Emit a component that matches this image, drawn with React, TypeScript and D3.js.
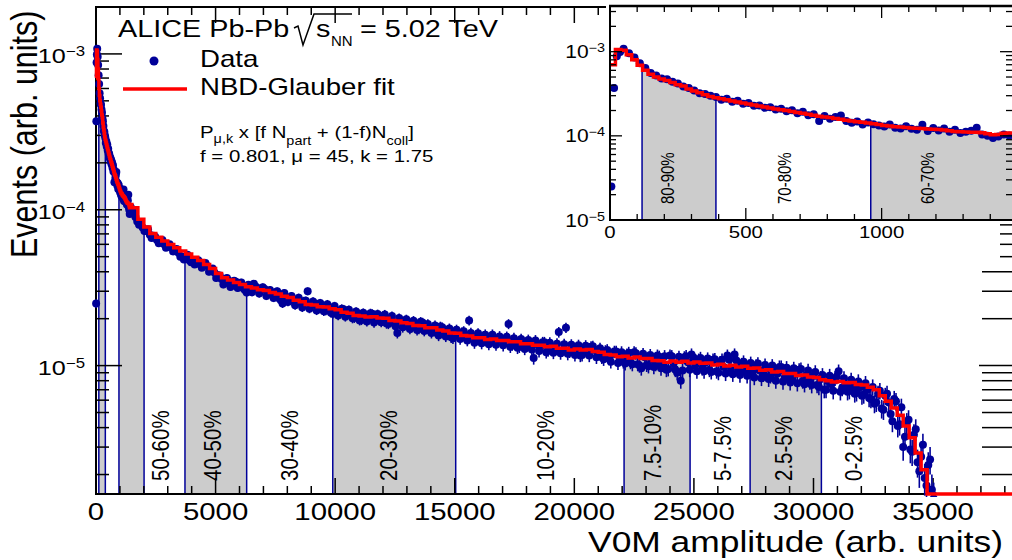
import React from 'react';
import * as d3 from 'd3';

const W = 1012;
const H = 560;
const U = 1e-6; // all values below are in units of 1e-6 (arb. units)

// NBD-Glauber fit, fine bins of 20 (0 .. 1500)
const fitFine = [
  700, 1060, 1040, 920, 800, 690, 600, 540, 500, 475,
  455, 430, 405, 390, 360, 340, 325, 308, 294, 283,
  276, 268, 260, 253, 245, 239, 232, 226, 220, 214,
  209, 204, 200, 195, 190, 185, 181, 176, 171, 168,
  165, 161, 157, 153, 150, 147, 145, 142, 139, 136,
  133, 131, 128, 127, 126, 124, 123, 122, 121, 120,
  119, 117, 115, 113, 112, 111, 110, 110, 109, 106,
  103, 104, 107, 108, 108,
];

// NBD-Glauber fit, bins of 250 starting at 1500
const fitCoarse = [
  103, 87, 77.5, 70.5, 66.5, 63, 59.8, 57, 54.3, 52,
  49.5, 47.2, 44.6, 42, 39, 36.6, 35.4, 34.1, 33.2, 32.1,
  31.5, 30.7, 30.3, 29.4, 28.8, 27.9, 27.4, 26.3, 25.7, 24.7,
  24.5, 23.9, 23.8, 23.2, 22.8, 22.0, 21.7, 21.0, 20.8, 20.5,
  20.6, 20.2, 20.1, 19.5, 19.3, 18.8, 18.6, 18.1, 18.0, 17.5,
  17.5, 16.9, 16.7, 16.2, 16.1, 15.6, 15.5, 15.1, 15.1, 14.7,
  14.8, 14.5, 14.5, 14.2, 14.2, 13.8, 13.8, 13.5, 13.5, 13.2,
  13.3, 12.9, 12.9, 12.6, 12.8, 12.6, 12.7, 12.3, 12.2, 11.8,
  11.7, 11.4, 11.5, 11.2, 11.35, 11.1, 11.1, 10.8, 10.75, 10.5,
  10.7, 10.5, 10.65, 10.4, 10.55, 10.35, 10.4, 10.1, 10.2, 9.95,
  10.05, 9.8, 9.9, 9.6, 9.65, 9.35, 9.4, 9.1, 9.15, 8.9,
  8.9, 8.65, 8.7, 8.45, 8.4, 8.1, 8.0, 7.85, 7.9, 7.75,
  7.8, 7.55, 7.5, 7.25, 7.0, 6.4, 5.9, 5.35, 4.8, 4.1,
  3.45, 2.75, 2.15, 1.45,
];

// Data: first points [amplitude, value]
const dataHead: [number, number][] = [[5, 25], [15, 370], [25, 880], [37, 990], [50, 1080]];

// Data, bins of 20 centred at 70 .. 1470
const dataFine = [
  960, 850, 730, 640, 560, 520, 480, 470, 440, 420,
  385, 370, 345, 320, 315, 300, 290, 268, 275, 255,
  262, 240, 246, 228, 230, 215, 218, 205, 210, 196,
  202, 186, 193, 176, 180, 150, 172, 160, 168, 175,
  150, 143, 148, 136, 144, 137, 133, 129, 136, 125,
  122, 130, 121, 118, 135, 114, 124, 116, 122, 112,
  118, 108, 112, 115, 125, 104, 100, 94, 98, 104,
  101,
];

// Data, points every 150 from 1500 .. 35100
const dataCoarse = [
  100, 90, 80, 77, 73, 69, 68, 64, 63, 60,
  58, 57.5, 55, 53, 50, 49, 47.5, 47, 45, 46,
  44, 43.5, 41, 39.5, 38, 36, 34, 35, 33.5, 34.5,
  33, 31.5, 29.5, 31.8, 33.5, 31.5, 30.5, 31, 29.5, 28.8,
  29.5, 27, 25, 27.5, 27, 26, 26.5, 25.5, 26, 30,
  24.5, 25, 23.2, 24.2, 22.5, 23.5, 21.5, 22.5, 22, 23,
  21.8, 21.3, 20.2, 21.6, 19.6, 21, 20.3, 21.5, 20, 19.5,
  20.8, 18.6, 19.8, 19, 16.2, 19.3, 18.2, 18.8, 17.6, 18.5,
  17.2, 18.9, 17.3, 16.8, 17.5, 16.2, 17.8, 16.1, 16.6, 15.2,
  16.5, 15.6, 16.3, 15.1, 19.5, 15.4, 15, 14.9, 15.4, 14.4,
  15.2, 14.2, 14.9, 14.6, 14.5, 18.5, 13.6, 14.4, 13.2, 14.2,
  13.4, 14, 11.2, 13.7, 13.3, 14.1, 12.5, 13.2, 12.8, 16.4,
  12.5, 17.5, 12.3, 13.1, 12.9, 11.6, 12.8, 12.2, 13.2, 12.6,
  12.0, 11.3, 12.4, 11.1, 11.9, 12.3, 11.0, 10.6, 11.8, 10.5,
  12.2, 10.2, 9.6, 11.3, 9.9, 11.0, 10.2, 11.4, 10.1, 9.4,
  11.6, 10.3, 9.0, 8.0, 11.3, 10.5, 11.8, 10.0, 10.9, 9.6,
  10.5, 9.4, 10.9, 9.2, 10.5, 9.8, 11.6, 9.5, 11.8, 9.3,
  10.2, 9.2, 9.9, 9.0, 10.0, 9.3, 8.8, 9.6, 8.6, 9.4,
  8.9, 9.8, 8.4, 9.2, 8.3, 8.9, 9.4, 8.0, 8.7, 7.9,
  8.6, 7.5, 8.3, 7.0, 8.0, 7.6, 8.3, 9.2, 7.2, 7.5,
  6.9, 7.4, 6.7, 7.3, 6.5, 7.0, 6.1, 5.7, 6.6, 5.3,
  6.4, 5.8, 4.4, 5.9, 4.2, 3.0, 4.3, 2.9, 3.6, 2.4,
  2.6, 1.9, 2.3, 1.6, 1.2,
];

// Data, interleaved points every 150 from 1575 .. 35025
const dataCoarse2 = [
  96, 84, 83, 73, 75, 66, 67, 61, 64, 57,
  60, 54, 56, 50, 48, 51.5, 46, 44.5, 47.5, 42.5,
  45.5, 40, 42, 36.5, 37.8, 33.2, 36.5, 32, 35, 31.5,
  34.2, 30.5, 33, 29.6, 32.2, 29, 31.8, 28, 30.6, 27.2,
  30, 26.3, 29.2, 25.6, 28, 24.4, 27.3, 23.6, 26.1, 23.2,
  25.8, 22.6, 25.2, 22.3, 24.8, 21.8, 24.1, 21, 23.2, 20.6,
  22.8, 20.1, 22.2, 19.5, 21.8, 19.2, 21.7, 18.9, 21.4, 19,
  21.3, 18.5, 20.8, 17.9, 20.2, 17.6, 19.8, 17.2, 19.4, 16.9,
  19.1, 16.7, 18.5, 16.2, 18.1, 15.6, 17.6, 15.4, 17.3, 15.0,
  17.0, 14.8, 16.6, 14.5, 16.2, 14.0, 16.1, 13.9, 15.8, 13.7,
  15.8, 13.6, 15.4, 13.5, 15.3, 13.2, 15.0, 13.0, 14.8, 12.8,
  14.6, 12.7, 14.5, 12.4, 14.1, 12.2, 14.0, 12.1, 13.8, 12.0,
  13.7, 11.9, 13.6, 11.7, 13.5, 11.7, 13.4, 11.6, 13.3, 11.3,
  12.9, 11.0, 12.6, 10.6, 12.3, 10.4, 12.2, 10.3, 12.1, 10.2,
  12.0, 10.0, 11.9, 10.1, 11.7, 9.8, 11.6, 9.6, 11.5, 9.5,
  11.5, 9.4, 11.4, 9.3, 11.5, 9.4, 11.3, 9.2, 11.2, 9.2,
  11.1, 9.1, 11.0, 9.0, 10.9, 8.9, 10.9, 8.8, 10.8, 8.7,
  10.6, 8.6, 10.4, 8.4, 10.3, 8.3, 10.1, 8.2, 10.0, 8.0,
  9.8, 7.9, 9.7, 7.8, 9.6, 7.7, 9.5, 7.6, 9.3, 7.5,
  9.1, 7.3, 8.7, 7.0, 8.6, 6.9, 8.5, 6.8, 8.3, 6.8,
  8.1, 6.6, 7.9, 6.4, 7.7, 6.2, 7.3, 5.8, 6.9, 5.2,
  6.6, 4.9, 6.1, 4.1, 5.4, 3.5, 4.5, 2.8, 3.9, 2.1,
  3.1, 1.7, 2.5, 1.4,
];

// centrality class boundaries (V0M amplitude)
const classEdges = [118, 390, 960, 2010, 3720, 6300, 9900, 15040, 22080, 24840, 27350, 30330];
const shadedBands: [number, number][] = [
  [118, 390], [960, 2010], [3720, 6300], [9900, 15040], [22080, 24840], [27350, 30330],
];
const mainLabels = ['50-60%', '40-50%', '30-40%', '20-30%', '10-20%', '7.5-10%', '5-7.5%', '2.5-5%', '0-2.5%'];
const mainLabelX = [2680, 4850, 8070, 12210, 18780, 23250, 26180, 28730, 31660];
const insetLabels = ['80-90%', '70-80%', '60-70%'];
const insetLabelX = [213, 644, 1170];

const mainXTickLabels = [0, 5000, 10000, 15000, 20000, 25000, 30000, 35000];
const insetXTickLabels = [0, 500, 1000];
const mainYTickExp = [-5, -4, -3];
const insetYTickExp = [-5, -4, -3];

const FONT = '"Liberation Sans", Arial, Helvetica, sans-serif';
const SX = 1.2;
const BLUE = '#000099';
const RED = '#ff0000';

function T(props: any) {
  const { x, y, fs, sx = SX, anchor = 'start', rot = 0, dy, children, fill = '#000' } = props;
  return (
    <text
      transform={`translate(${x},${y}) scale(${sx},1)` + (rot ? ` rotate(${rot})` : '')}
      fontSize={fs}
      textAnchor={anchor}
      fontFamily={FONT}
      fill={fill}
      dy={dy}
    >
      {children}
    </text>
  );
}

type P = { x: number; v: number };

export default function App() {
  const mx = d3.scaleLinear().domain([0, 38300]).range([96, 1012]);
  const my = d3.scaleLog().domain([1.5e-6, 2e-3]).range([494, 7]);
  const ix = d3.scaleLinear().domain([0, 1480]).range([610, 1012]);
  const iy = d3.scaleLog().domain([1e-5, 3.49e-3]).range([220, 6]);

  const fit: P[] = [
    ...fitFine.map((v, i) => ({ x: i * 20, v: v * U })),
    ...fitCoarse.map((v, j) => ({ x: 1500 + 250 * j, v: v * U })),
    { x: 35000, v: 0 },
    { x: 38300, v: 0 },
  ];
  const data: P[] = [
    ...dataHead.map(([x, v]) => ({ x, v: v * U })),
    ...dataFine.map((v, i) => ({ x: 70 + 20 * i, v: v * U })),
    ...dataCoarse.map((v, i) => ({ x: 1500 + 150 * i, v: v * U })),
    ...dataCoarse2.map((v, i) => ({ x: 1575 + 150 * i, v: v * U })),
  ];
  const fitAt = (X: number) => {
    let v = fit[0].v;
    for (const p of fit) {
      if (p.x <= X) v = p.v;
      else break;
    }
    return v;
  };
  const yv = (s: any, v: number) => {
    const b = s.range()[0];
    return v > 0 ? Math.min(s(v), b) : b;
  };
  const err = (v: number) => v * 0.1 / Math.sqrt(v / 1e-5);

  const mainLine = d3.line<P>().x((p) => mx(p.x)).y((p) => yv(my, p.v)).curve(d3.curveStepAfter)(fit) || '';
  const mainArea = d3.area<P>().x((p) => mx(p.x)).y0(494).y1((p) => yv(my, p.v)).curve(d3.curveStepAfter)(fit) || '';
  const insetFit = fit.filter((p) => p.x <= 1750);
  const insetLine = d3.line<P>().x((p) => ix(p.x)).y((p) => yv(iy, p.v)).curve(d3.curveStepAfter)(insetFit) || '';
  const insetArea = d3.area<P>().x((p) => ix(p.x)).y0(220).y1((p) => yv(iy, p.v)).curve(d3.curveStepAfter)(insetFit) || '';

  const logTicks = (lo: number, hi: number) => {
    const out: { v: number; major: boolean }[] = [];
    for (let e = -7; e <= -2; e++) {
      for (let k = 1; k <= 9; k++) {
        const v = k * Math.pow(10, e);
        if (v >= lo * 0.999 && v <= hi * 1.001) out.push({ v, major: k === 1 });
      }
    }
    return out;
  };
  const mYT = logTicks(1.5e-6, 2e-3);
  const iYT = logTicks(1e-5, 3.49e-3);
  const mXT = d3.range(0, 38001, 1000).map((v) => ({ v, major: v % 5000 === 0 }));
  const iXT = d3.range(0, 1481, 100).map((v) => ({ v, major: v % 500 === 0 }));

  const insetData = data.filter((p) => p.x <= 1500);

  return (
    <svg width={W} height={H} style={{ position: 'absolute', left: 0, top: 0, background: '#fff' }}>
      <defs>
        <clipPath id="mainClip">
          <rect x={88} y={6} width={W - 88} height={491} />
        </clipPath>
        <clipPath id="mainBands">
          {shadedBands.map((b, i) => (
            <rect key={i} x={mx(b[0])} y={0} width={mx(b[1]) - mx(b[0])} height={H} />
          ))}
        </clipPath>
        <clipPath id="insetClip">
          <rect x={610} y={6} width={W - 610} height={214} />
        </clipPath>
        <clipPath id="insetBands">
          {shadedBands.map((b, i) => (
            <rect key={i} x={ix(b[0])} y={0} width={Math.max(0, ix(b[1]) - ix(b[0]))} height={H} />
          ))}
        </clipPath>
      </defs>
      <rect x={0} y={0} width={W} height={H} fill="#fff" />

      {/* ===== MAIN PLOT ===== */}
      <g clipPath="url(#mainClip)">
        <g clipPath="url(#mainBands)">
          <path d={mainArea} fill="#cccccc" />
        </g>
        {classEdges.map((X, i) => (
          <line key={i} x1={mx(X)} x2={mx(X)} y1={494} y2={yv(my, fitAt(X))} stroke={BLUE} strokeWidth={1.5} />
        ))}
      </g>
      <line x1={96} x2={96} y1={7} y2={494} stroke="#000" strokeWidth={2} />
      <line x1={95} x2={W} y1={494} y2={494} stroke="#000" strokeWidth={2.2} />
      <line x1={95} x2={W} y1={7} y2={7} stroke="#000" strokeWidth={2} />
      {mYT.map((t, i) => (
        <g key={'my' + i}>
          <line x1={96} x2={96 + (t.major ? 26 : 13)} y1={my(t.v)} y2={my(t.v)} stroke="#000" strokeWidth={1.5} />
          <line x1={W} x2={W - (t.major ? 33 : 30)} y1={my(t.v)} y2={my(t.v)} stroke="#000" strokeWidth={1.5} />
        </g>
      ))}
      {mXT.map((t, i) => (
        <g key={'mx' + i}>
          <line x1={mx(t.v)} x2={mx(t.v)} y1={494} y2={494 - (t.major ? 16 : 8)} stroke="#000" strokeWidth={1.5} />
          <line x1={mx(t.v)} x2={mx(t.v)} y1={7} y2={7 + (t.major ? 16 : 8)} stroke="#000" strokeWidth={1.5} />
        </g>
      ))}

      <g clipPath="url(#mainClip)">
        {data.map((p, i) => {
          const e = err(p.v);
          return (
            <line key={'e' + i} x1={mx(p.x)} x2={mx(p.x)} y1={my(p.v + e)} y2={my(Math.max(p.v - e, 1e-7))} stroke={BLUE} strokeWidth={1.6} />
          );
        })}
        {data.map((p, i) => (
          <circle key={'c' + i} cx={mx(p.x)} cy={my(p.v)} r={4} fill={BLUE} />
        ))}
        <path d={mainLine} fill="none" stroke={RED} strokeWidth={3.5} />
      </g>

      {mainLabels.map((s, i) => (
        <T key={'ml' + i} x={mx(mainLabelX[i])} y={481} fs={20.5} rot={-90} dy="0.36em">{s}</T>
      ))}

      {mainXTickLabels.map((v, i) => (
        <T key={'mxl' + i} x={mx(v)} y={520} fs={24.5} anchor="middle">{v}</T>
      ))}
      {mainYTickExp.map((e, i) => (
        <T key={'myl' + i} x={85} y={my(Math.pow(10, e)) + 9} fs={21} anchor="end">
          10<tspan fontSize={14} dy={-7}>{'\u2212' + Math.abs(e)}</tspan>
        </T>
      ))}

      <T x={1003} y={552} fs={30} sx={1.18} anchor="end">V0M amplitude (arb. units)</T>
      <T x={37} y={258} fs={30.5} sx={1.22} rot={-90}>Events (arb. units)</T>

      {/* ===== INSET ===== */}
      <rect x={606} y={0} width={W - 606} height={222} fill="#fff" />
      <rect x={606} y={221} width={1000 - 606} height={37} fill="#fff" />
      <g clipPath="url(#insetClip)">
        <g clipPath="url(#insetBands)">
          <path d={insetArea} fill="#cccccc" />
        </g>
        {classEdges.filter((X) => X < 1480).map((X, i) => (
          <line key={i} x1={ix(X)} x2={ix(X)} y1={220} y2={yv(iy, fitAt(X))} stroke={BLUE} strokeWidth={1.5} />
        ))}
        {insetData.map((p, i) => (
          <circle key={'ic' + i} cx={ix(p.x)} cy={iy(p.v)} r={4} fill={BLUE} />
        ))}
        <path d={insetLine} fill="none" stroke={RED} strokeWidth={3.5} />
      </g>
      <line x1={610} x2={610} y1={6} y2={221} stroke="#000" strokeWidth={2} />
      <line x1={609} x2={W} y1={220} y2={220} stroke="#000" strokeWidth={2} />
      <line x1={609} x2={W} y1={6} y2={6} stroke="#000" strokeWidth={2.4} />
      {iYT.map((t, i) => (
        <g key={'iy' + i}>
          <line x1={610} x2={610 + (t.major ? 12 : 6)} y1={iy(t.v)} y2={iy(t.v)} stroke="#000" strokeWidth={1.3} />
          <line x1={W} x2={W - (t.major ? 12 : 6)} y1={iy(t.v)} y2={iy(t.v)} stroke="#000" strokeWidth={1.3} />
        </g>
      ))}
      {iXT.map((t, i) => (
        <g key={'ix' + i}>
          <line x1={ix(t.v)} x2={ix(t.v)} y1={220} y2={220 - (t.major ? 12 : 6)} stroke="#000" strokeWidth={1.3} />
          <line x1={ix(t.v)} x2={ix(t.v)} y1={6} y2={6 + (t.major ? 12 : 6)} stroke="#000" strokeWidth={1.3} />
        </g>
      ))}
      {insetLabels.map((s, i) => (
        <T key={'il' + i} x={ix(insetLabelX[i])} y={204} fs={15} rot={-90} dy="0.36em">{s}</T>
      ))}
      {insetXTickLabels.map((v, i) => (
        <T key={'ixl' + i} x={ix(v)} y={238} fs={17} anchor="middle">{v}</T>
      ))}
      {insetYTickExp.map((e, i) => (
        <T key={'iyl' + i} x={605} y={iy(Math.pow(10, e)) + 6.5} fs={17.5} anchor="end">
          10<tspan fontSize={12} dy={-6}>{'\u2212' + Math.abs(e)}</tspan>
        </T>
      ))}

      {/* ===== LEGEND / TITLE ===== */}
      <T x={118} y={37} fs={24}>ALICE Pb-Pb</T>
      <path d="M294,28 L298,26 L303,45 L314,14 L352,14" fill="none" stroke="#000" strokeWidth={1.5} />
      <T x={316} y={37} fs={24}>s</T>
      <T x={331} y={46} fs={15} sx={1.0}>NN</T>
      <T x={360} y={37} fs={24}>= 5.02 TeV</T>

      <circle cx={154} cy={61} r={4.5} fill={BLUE} />
      <T x={200} y={67} fs={23}>Data</T>
      <line x1={123} x2={187} y1={89} y2={89} stroke={RED} strokeWidth={3.5} />
      <T x={200} y={95} fs={23}>NBD-Glauber fit</T>

      <T x={200} y={138} fs={17}>
        P<tspan fontSize={12} dy={5}>{'\u03bc,k'}</tspan>
        <tspan dy={-5}>{' x [f N'}</tspan>
        <tspan fontSize={12} dy={7}>part</tspan>
        <tspan dy={-7}>{' + (1-f)N'}</tspan>
        <tspan fontSize={12} dy={7}>coll</tspan>
        <tspan dy={-7}>]</tspan>
      </T>
      <T x={200} y={162} fs={17}>{'f = 0.801, \u03bc = 45, k = 1.75'}</T>
    </svg>
  );
}
